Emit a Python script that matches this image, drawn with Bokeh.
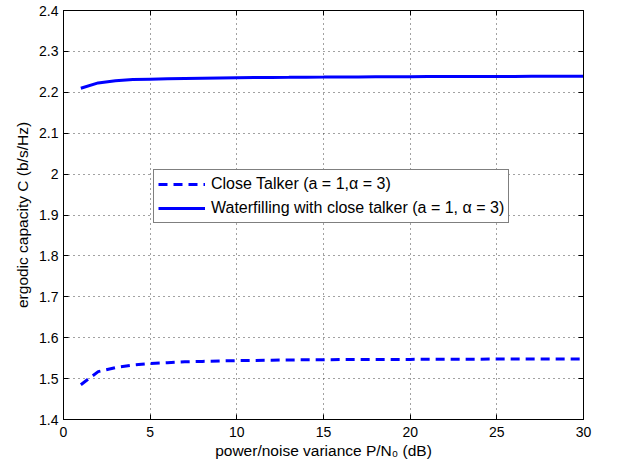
from bokeh.plotting import figure
from bokeh.models import LinearAxis, Legend, LegendItem, FixedTicker, Range1d
from bokeh.embed import file_html
from bokeh.resources import INLINE

snr_db = list(range(1, 31))
close_talker = [1.485, 1.517, 1.527, 1.533, 1.537, 1.539, 1.541, 1.542, 1.543, 1.544,
                1.5445, 1.545, 1.5455, 1.546, 1.546, 1.5465, 1.5465, 1.547, 1.547, 1.547,
                1.5472, 1.5474, 1.5475, 1.5476, 1.5477, 1.5478, 1.5479, 1.548, 1.548, 1.548]
waterfilling = [2.210, 2.223, 2.228, 2.231, 2.232, 2.233, 2.234, 2.2345, 2.235, 2.2355,
                2.236, 2.2363, 2.2366, 2.237, 2.2372, 2.2375, 2.2377, 2.238, 2.2381, 2.2382,
                2.2384, 2.2385, 2.2386, 2.2387, 2.2388, 2.2389, 2.239, 2.239, 2.2391, 2.2392]

x_ticks = [0, 5, 10, 15, 20, 25, 30]
y_ticks = [1.4, 1.5, 1.6, 1.7, 1.8, 1.9, 2.0, 2.1, 2.2, 2.3, 2.4]
y_tick_labels = ["1.4", "1.5", "1.6", "1.7", "1.8", "1.9", "2", "2.1", "2.2", "2.3", "2.4"]

FONT = "Liberation Sans"

p = figure(width=618, height=470, output_backend="svg", toolbar_location=None,
           x_range=Range1d(0, 30), y_range=Range1d(1.4, 2.4),
           min_border_left=63, min_border_right=35, min_border_top=10, min_border_bottom=51)
p.background_fill_color = "white"
p.border_fill_color = "white"
p.outline_line_color = "black"
p.outline_line_width = 1

r1 = p.line(snr_db, close_talker, line_color="#0000FF", line_width=3, line_dash="9 6")
r2 = p.line(snr_db, waterfilling, line_color="#0000FF", line_width=3)

for ax in (p.xaxis[0], p.yaxis[0]):
    ax.major_tick_in = 5
    ax.major_tick_out = 0
    ax.minor_tick_line_color = None
    ax.axis_line_color = "black"
    ax.major_tick_line_color = "black"
    ax.major_label_text_font = FONT
    ax.major_label_text_font_size = "14px"
    ax.major_label_text_color = "black"
    ax.axis_label_text_font = FONT
    ax.axis_label_text_font_size = "15.5px"
    ax.axis_label_text_font_style = "normal"
    ax.axis_label_text_color = "black"

p.xaxis[0].ticker = FixedTicker(ticks=x_ticks)
p.yaxis[0].ticker = FixedTicker(ticks=y_ticks)
p.yaxis[0].major_label_overrides = {t: l for t, l in zip(y_ticks, y_tick_labels)}
p.xaxis[0].axis_label = "power/noise variance P/N\u2080 (dB)"
p.yaxis[0].axis_label = "ergodic capacity C (b/s/Hz)"
p.xaxis[0].major_label_standoff = 7
p.yaxis[0].major_label_standoff = 5
p.xaxis[0].axis_label_standoff = 2
p.yaxis[0].axis_label_standoff = 5

for loc, ticks in (("right", y_ticks), ("above", x_ticks)):
    ax = LinearAxis(ticker=FixedTicker(ticks=ticks))
    ax.major_tick_in = 5
    ax.major_tick_out = 0
    ax.minor_tick_line_color = None
    ax.major_label_overrides = {t: "" for t in ticks}
    ax.major_label_standoff = 0
    ax.axis_line_color = "black"
    ax.major_tick_line_color = "black"
    p.add_layout(ax, loc)

for g in (p.xgrid[0], p.ygrid[0]):
    g.grid_line_color = "#444444"
    g.grid_line_width = 1
    g.grid_line_dash = "1 4"
p.xgrid[0].ticker = FixedTicker(ticks=x_ticks)
p.ygrid[0].ticker = FixedTicker(ticks=y_ticks)

legend = Legend(items=[
    LegendItem(label="Close Talker (a = 1,\u03b1 = 3)", renderers=[r1]),
    LegendItem(label="Waterfilling with close talker (a = 1, \u03b1 = 3)", renderers=[r2]),
], location=(90, 196))
legend.border_line_color = "black"
legend.border_line_width = 1
legend.background_fill_color = "white"
legend.background_fill_alpha = 1
legend.label_text_font = FONT
legend.label_text_font_size = "16px"
legend.label_text_color = "black"
legend.glyph_width = 47
legend.glyph_height = 20
legend.label_height = 20
legend.label_standoff = 6
legend.padding = 4
legend.spacing = 4
legend.margin = 0
p.add_layout(legend, "center")

open("out.html", "w").write(file_html(p, INLINE))
